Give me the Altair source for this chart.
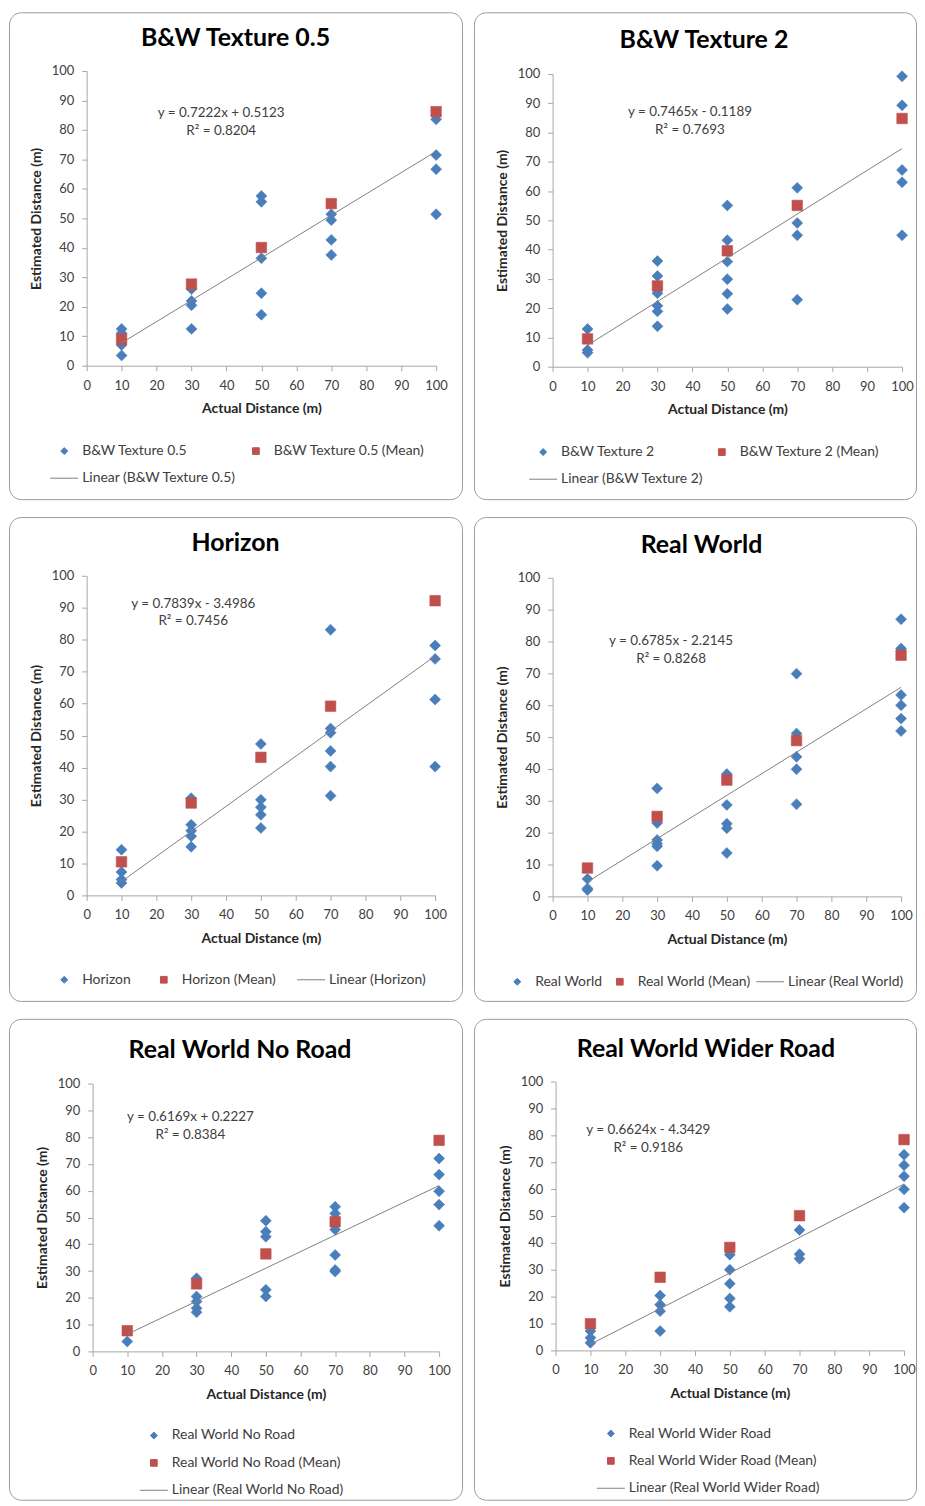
import altair as alt
import pandas as pd

# ---------------- data ----------------
X_LEVELS = [10, 30, 50, 70, 100]
X_TICKS = list(range(0, 101, 10))
Y_TICKS = list(range(0, 101, 10))

TITLES = ["B&W Texture 0.5", "B&W Texture 2", "Horizon",
          "Real World", "Real World No Road", "Real World Wider Road"]

bw05_obs = [[12.5, 11, 7, 3.5], [26, 22, 20.5, 12.5], [57.6, 55.6, 36.5, 24.6, 17.3],
            [51.4, 49.4, 42.7, 37.6], [83.6, 71.5, 66.7, 51.4]]
bw05_mean = [9.0, 27.7, 40.1, 55.0, 86.2]

bw2_obs = [[12.9, 5.7, 4.8], [36.1, 31, 25.1, 20.8, 18.9, 13.8], [55.1, 43.2, 35.9, 29.9, 24.9, 19.7],
           [61.1, 49.1, 44.9, 22.9], [99.2, 89.3, 67.2, 63, 44.9]]
bw2_mean = [9.5, 27.6, 39.6, 55.1, 84.8]

hor_obs = [[14.3, 7.3, 5.0, 3.9], [30.4, 22.1, 20.2, 18.5, 15.2], [47.4, 29.9, 27.6, 25.2, 21.1],
           [83.1, 52.2, 50.9, 45.2, 40.3, 31.2], [78.2, 74, 61.3, 40.3]]
hor_mean = [10.5, 28.9, 43.2, 59.2, 92.2]

rw_obs = [[5.5, 2.5, 2], [33.9, 23, 17.7, 16.5, 15.7, 9.6], [38.4, 28.7, 22.8, 21.4, 13.6],
          [69.9, 51.1, 43.8, 39.9, 28.9], [87, 77.8, 63.2, 60, 55.8, 51.9]]
rw_mean = [8.9, 25.1, 36.5, 48.9, 75.7]

rwnr_obs = [[3.7], [27.3, 20.5, 18.6, 16.1, 14.6], [48.8, 44.7, 42.8, 23, 20.5],
            [54, 51.5, 45.5, 36, 30.4, 29.8], [72, 66, 59.8, 54.8, 46.9]]
rwnr_mean = [7.7, 25.2, 36.4, 48.4, 78.8]

rwwr_obs = [[7.2, 4.7, 2.8], [20.4, 17, 14.6, 7.2], [35.6, 30, 24.8, 19.3, 16.2],
            [44.8, 35.8, 34.1], [72.8, 68.9, 64.8, 59.9, 53.1]]
rwwr_mean = [9.9, 27.2, 38.3, 50.1, 78.4]

OBS = [bw05_obs, bw2_obs, hor_obs, rw_obs, rwnr_obs, rwwr_obs]
MEANS = [bw05_mean, bw2_mean, hor_mean, rw_mean, rwnr_mean, rwwr_mean]

SLOPES = [0.7222, 0.7465, 0.7839, 0.6785, 0.6169, 0.6624]
INTERCEPTS = [0.5123, -0.1189, -3.4986, -2.2145, 0.2227, -4.3429]
EQ_TEXT = ["y = 0.7222x + 0.5123", "y = 0.7465x - 0.1189", "y = 0.7839x - 3.4986",
           "y = 0.6785x - 2.2145", "y = 0.6169x + 0.2227", "y = 0.6624x - 4.3429"]
R2_TEXT = ["0.8204", "0.7693", "0.7456", "0.8268", "0.8384", "0.9186"]
# anchor (data units) of the first equation line
EQ_POS_X = [38.5, 39.3, 30.6, 34.0, 28.2, 26.6]
EQ_POS_Y = [85.8, 87.1, 91.3, 80.0, 87.4, 81.9]

# ---------------- styles / layout ----------------
FONT = "Lato"
BLUE = "#4a7ebb"
RED = "#c0504d"
GRAY = "#808080"
TEXT = "#404040"
DIAMOND = "M0,-0.25L0.25,0L0,0.25L-0.25,0Z"
SQUARE = "M-0.24,-0.24L0.24,-0.24L0.24,0.24L-0.24,0.24Z"
STROKE = "M-1,0L1,0"

LAYOUT = [
    dict(w=455, h=489, xr=[78, 429], yr=[355, 59], tx=0, ty=26, lx=41, ly=426, cols=2, cpad=4.5),
    dict(w=444, h=489, xr=[79, 430], yr=[356, 62], tx=9, ty=28, lx=55, ly=427, cols=2, cpad=3.5),
    dict(w=455, h=486, xr=[78, 428], yr=[380, 59], tx=0, ty=26, lx=41, ly=450, cols=3, cpad=18),
    dict(w=444, h=486, xr=[79, 429], yr=[381, 61], tx=6.5, ty=28, lx=29, ly=452, cols=3, cpad=3),
    dict(w=455, h=483, xr=[84, 432], yr=[334, 65], tx=4.5, ty=31, lx=131, ly=404, cols=1, cpad=10),
    dict(w=444, h=483, xr=[82, 432], yr=[333, 63], tx=11, ty=30, lx=123, ly=402, cols=1, cpad=10),
]


def panel(i):
    name = TITLES[i]
    L = LAYOUT[i]
    rows = []
    for xv, ys in zip(X_LEVELS, OBS[i]):
        for yv in ys:
            rows.append({"x": xv, "y": yv, "series": name})
    for xv, yv in zip(X_LEVELS, MEANS[i]):
        rows.append({"x": xv, "y": yv, "series": name + " (Mean)"})
    pts = pd.DataFrame(rows)
    x0, x1 = min(X_LEVELS), max(X_LEVELS)
    line_df = pd.DataFrame({"x": [x0, x1],
                            "y": [SLOPES[i] * x0 + INTERCEPTS[i], SLOPES[i] * x1 + INTERCEPTS[i]]})
    eq_df = pd.DataFrame({"x": [EQ_POS_X[i]], "y": [EQ_POS_Y[i]],
                          "t": [EQ_TEXT[i] + "\nR² = " + R2_TEXT[i]]})
    title_df = pd.DataFrame({"t": [name]})

    names = [name, name + " (Mean)", "Linear (" + name + ")"]
    colors = [BLUE, RED, GRAY]
    shapes = [DIAMOND, SQUARE, STROKE]
    # Vega fills legend columns top-to-bottom; order entries so rows read as in the original
    order = [0, 2, 1] if L["cols"] == 2 else [0, 1, 2]
    domain = [names[k] for k in order]
    crange = [colors[k] for k in order]
    srange = [shapes[k] for k in order]

    xs = alt.Scale(domain=[0, 100], range=L["xr"], nice=False, zero=False)
    ys = alt.Scale(domain=[0, 100], range=L["yr"], nice=False, zero=False)
    xax = alt.Axis(values=X_TICKS, offset=L["yr"][0] - L["h"], title="Actual Distance (m)")
    yax = alt.Axis(values=Y_TICKS, offset=-L["xr"][0], title="Estimated Distance (m)")
    leg = alt.Legend(title=None, orient="none", legendX=L["lx"], legendY=L["ly"],
                     columns=L["cols"], columnPadding=L["cpad"], rowPadding=5.5,
                     symbolSize=784, symbolStrokeWidth=1, labelOffset=3.5, labelLimit=400,
                     labelFont=FONT, labelFontSize=14, labelColor=TEXT, padding=0)

    points = alt.Chart(pts).mark_point(filled=True, opacity=1, size=1936, strokeWidth=0.6).encode(
        x=alt.X("x:Q", scale=xs, axis=xax),
        y=alt.Y("y:Q", scale=ys, axis=yax),
        color=alt.Color("series:N", scale=alt.Scale(domain=domain, range=crange), legend=leg),
        shape=alt.Shape("series:N", scale=alt.Scale(domain=domain, range=srange), legend=leg),
        stroke=alt.Stroke("series:N", scale=alt.Scale(domain=domain, range=crange), legend=leg),
    )
    trend = alt.Chart(line_df).mark_line(strokeWidth=1).encode(
        x=alt.X("x:Q", scale=xs, axis=xax),
        y=alt.Y("y:Q", scale=ys, axis=yax),
        color=alt.value(GRAY),
    )
    eq = alt.Chart(eq_df).mark_text(font=FONT, fontSize=13.5, color=TEXT, lineHeight=18, lineBreak="\n",
                                    align="center", baseline="middle").encode(
        x=alt.X("x:Q", scale=xs, axis=xax),
        y=alt.Y("y:Q", scale=ys, axis=yax),
        text="t:N",
    )
    title = alt.Chart(title_df).mark_text(font=FONT, fontSize=25, fontWeight="bold", color="#000000",
                                          align="center", baseline="middle").encode(
        x=alt.value(L["w"] / 2 + L["tx"]), y=alt.value(L["ty"]), text="t:N",
    )
    return alt.layer(points, trend, eq, title).properties(width=L["w"], height=L["h"])


def row(a, b):
    return alt.hconcat(panel(a), panel(b), spacing=10).resolve_scale(
        color="independent", shape="independent", stroke="independent")


chart = alt.vconcat(row(0, 1), row(2, 3), row(4, 5), spacing=16).resolve_scale(
    color="independent", shape="independent", stroke="independent"
).properties(padding=0).configure_view(
    stroke="#9a9a9a", strokeWidth=1, cornerRadius=12
).configure_axis(
    grid=False, domainColor="#a6a6a6", tickColor="#a6a6a6", tickSize=5, labelFlush=False,
    labelFont=FONT, labelFontSize=13, labelColor=TEXT,
    titleFont=FONT, titleFontSize=14, titleFontWeight="bold", titleColor="#262626",
).configure_axisX(labelPadding=8.5, titlePadding=9.5).configure_axisY(labelPadding=8, titlePadding=8)

chart.save("out.html", embed_options={"renderer": "svg", "actions": False})
